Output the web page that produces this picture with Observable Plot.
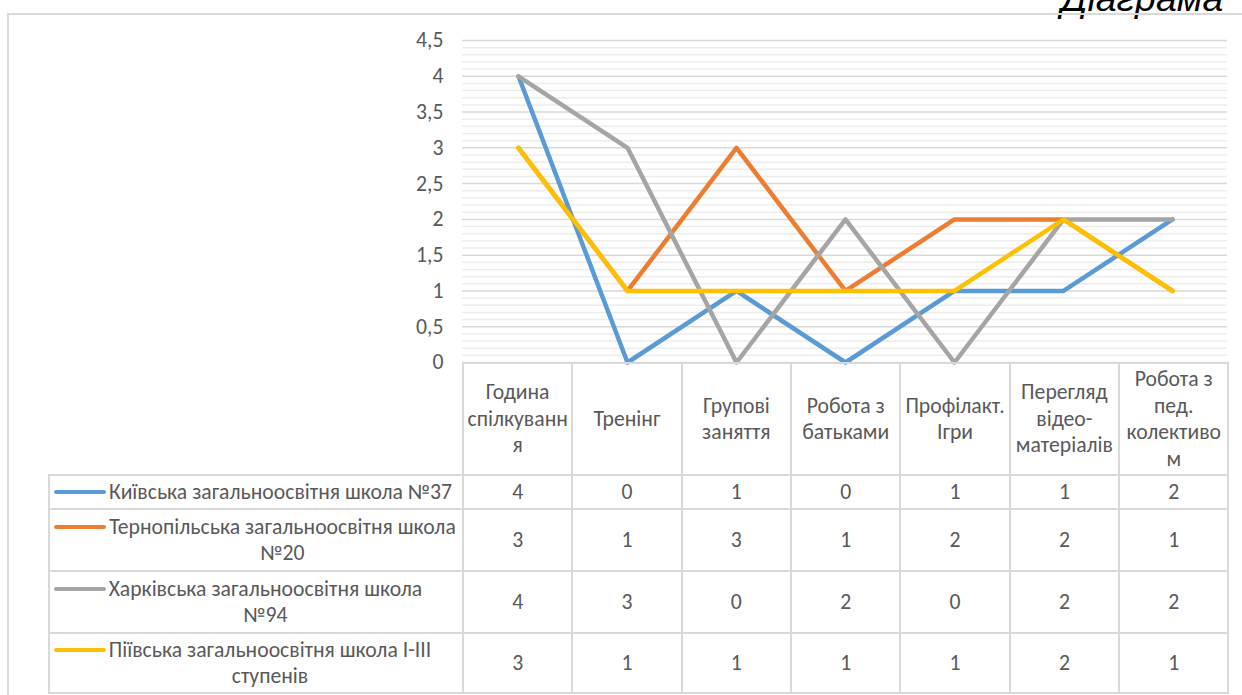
<!DOCTYPE html>
<html><head><meta charset="utf-8">
<script src="https://cdn.jsdelivr.net/npm/d3@7"></script>
<script src="https://cdn.jsdelivr.net/npm/@observablehq/plot@0.6"></script>
<style>
html,body{margin:0;padding:0;background:#fff;}
#wrap{position:relative;width:1242px;height:695px;overflow:hidden;background:#fff;font-family:Carlito,Calibri,Lato,sans-serif;color:#595959;}
#frame{position:absolute;left:7px;top:13px;width:1260px;height:720px;border:2px solid #D9D9D9;box-sizing:border-box;z-index:2;}
#title{position:absolute;left:1061px;top:-22.7px;height:37.5px;line-height:37.5px;font:italic 37.5px "Liberation Sans",Arial,sans-serif;color:#000;white-space:nowrap;z-index:1;}
#chart{position:absolute;left:0;top:0;z-index:3;}
#tbl{position:absolute;left:48px;top:362px;border-collapse:collapse;table-layout:fixed;width:1179.5px;font-size:21.7px;color:#595959;z-index:3;}
#tbl td{border:2px solid #D9D9D9;padding:0;text-align:center;vertical-align:middle;line-height:26.5px;}
#tbl td.blank{border:none;}
#tbl td.head{padding:0 2px;overflow-wrap:anywhere;}
.lg{display:flex;align-items:flex-start;padding-left:4px;}
.key{flex:none;width:52px;height:4px;border-radius:2px;margin-top:11.25px;margin-right:2.5px;}
.lt{text-align:center;max-width:355px;}
</style></head>
<body><div id="wrap"><div id="frame"></div><div id="title">Діаграма</div><div id="chart"></div></div>
<script>
const categories = ["Година спілкування","Тренінг","Групові заняття","Робота з батьками","Профілакт. Ігри","Перегляд відео-матеріалів","Робота з пед. колективом"];
const schools = ["Київська загальноосвітня школа №37","Тернопільська загальноосвітня школа №20","Харківська загальноосвітня школа №94","Піївська загальноосвітня школа I-III ступенів"];
const kyiv = [4,0,1,0,1,1,2];
const ternopil = [3,1,3,1,2,2,1];
const kharkiv = [4,3,0,2,0,2,2];
const piiv = [3,1,1,1,1,2,1];
const colors = ["#5B9BD5","#ED7D31","#A5A5A5","#FFC000"];
const yTicks = [0,0.5,1,1.5,2,2.5,3,3.5,4,4.5];

const series = [kyiv, ternopil, kharkiv, piiv];
const rows = schools.flatMap((s,i) => categories.map((c,j) => ({school:s, cat:c, v:series[i][j]})));
const minor = d3.ticks(0, 4.5, 45).filter(t => !yTicks.some(m => Math.abs(m - t) < 1e-9));

const chart = Plot.plot({
  width: 1242, height: 380,
  marginLeft: 462, marginRight: 15, marginTop: 40, marginBottom: 18,
  style: {fontFamily: "Carlito, Calibri, Lato, sans-serif", fontSize: "21.7px", color: "#595959", background: "transparent", overflow: "visible"},
  x: {type: "point", domain: categories, padding: 0.5, axis: null},
  y: {domain: [0, 4.5], ticks: yTicks, tickFormat: d => String(d).replace(".", ","), tickSize: 0, tickPadding: 19, label: null},
  color: {domain: schools, range: colors},
  marks: [
    Plot.ruleY(minor, {stroke: "#EDEDED", strokeWidth: 1.5}),
    Plot.ruleY(yTicks, {stroke: "#D9D9D9", strokeWidth: 1.5}),
    Plot.line(rows, {x: "cat", y: "v", z: "school", stroke: "school", strokeWidth: 4.5, strokeLinecap: "round", strokeLinejoin: "round"})
  ]
});
document.getElementById("chart").appendChild(chart);

// data table below the chart (Excel-style data table with legend keys)
const tbl = document.createElement("table");
tbl.id = "tbl";
const cg = document.createElement("colgroup");
[414, ...categories.map(() => 765.5 / categories.length)].forEach(w => {
  const col = document.createElement("col"); col.style.width = w + "px"; cg.appendChild(col);
});
tbl.appendChild(cg);
const rowHeights = [112, 34, 62, 62, 60];
const hr = document.createElement("tr"); hr.style.height = rowHeights[0] + "px";
const blank = document.createElement("td"); blank.className = "blank"; hr.appendChild(blank);
categories.forEach(c => { const td = document.createElement("td"); td.className = "head"; td.textContent = c; hr.appendChild(td); });
tbl.appendChild(hr);
schools.forEach((s, i) => {
  const tr = document.createElement("tr"); tr.style.height = rowHeights[i + 1] + "px";
  const td = document.createElement("td");
  td.innerHTML = `<div class="lg"><span class="key" style="background:${colors[i]}"></span><span class="lt"></span></div>`;
  td.querySelector(".lt").textContent = s;
  tr.appendChild(td);
  series[i].forEach(v => { const c = document.createElement("td"); c.textContent = v; tr.appendChild(c); });
  tbl.appendChild(tr);
});
document.getElementById("wrap").appendChild(tbl);

// shrink each wrapped legend label to its longest line so it sits right after its key
tbl.querySelectorAll(".lt").forEach(el => {
  const r = document.createRange(); r.selectNodeContents(el);
  const w = Math.max(...Array.from(r.getClientRects(), q => q.width));
  el.style.width = Math.ceil(w + 0.5) + "px";
});
</script></body></html>
